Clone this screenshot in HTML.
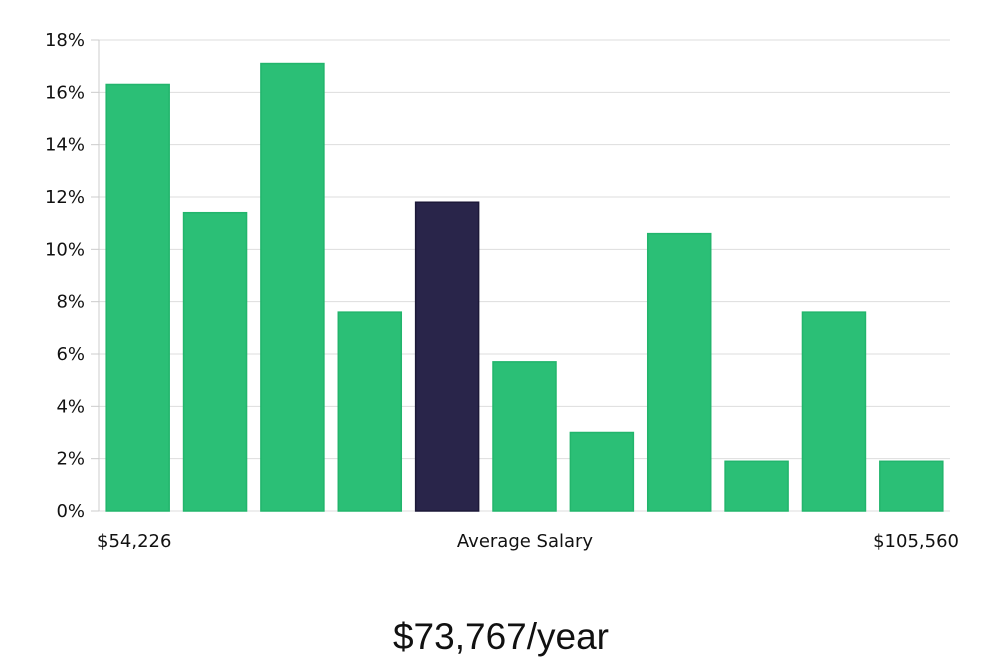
<!DOCTYPE html>
<html><head><meta charset="utf-8"><style>
body{margin:0;background:#fff;width:1000px;height:660px;overflow:hidden}
svg text{font-family:"DejaVu Sans","Liberation Sans",sans-serif;fill:#111}
</style></head><body>
<svg id="c" width="1000" height="660">
<g id="grid"></g>
<g id="bars"></g>
<g id="ticks"></g>
<text x="97" y="547" font-size="18">$54,226</text>
<text x="525" y="547" font-size="18" text-anchor="middle">Average Salary</text>
<text x="959" y="547" font-size="18" text-anchor="end">$105,560</text>
<text x="501" y="649" font-size="37" text-anchor="middle" style="font-family:'Liberation Sans',sans-serif;font-weight:300">$73,767/year</text>
</svg>
<script>
const categories=["b1","b2","b3","b4","b5","b6","b7","b8","b9","b10","b11"];
const values=[16.3,11.4,17.1,7.6,11.8,5.7,3.0,10.6,1.9,7.6,1.9];
const highlightIndex=4;
const yTicks=[0,2,4,6,8,10,12,14,16,18];
const X0=99,X1=950,Y0=511,Y1=40,YMAX=18;
const ns="http://www.w3.org/2000/svg";
const band=(X1-X0)/categories.length;
const xs=i=>X0+i*band;
const ys=v=>Y0-(v/YMAX)*(Y0-Y1);
function mk(t,a){const e=document.createElementNS(ns,t);for(const k in a)e.setAttribute(k,a[k]);return e;}
const grid=document.getElementById('grid'),ticks=document.getElementById('ticks'),bars=document.getElementById('bars');
yTicks.forEach(t=>{
  const y=ys(t);
  const l=mk('line',{x1:X0,x2:X1,y1:y,y2:y,stroke:'#dddddd','stroke-width':1});
  
  
  grid.appendChild(l);
  const tk=mk('line',{x1:X0-8,x2:X0,y1:y,y2:y,stroke:'#ccc'});
  
  
  ticks.appendChild(tk);
  const tx=mk('text',{x:85,y:y+6,'font-size':18,'text-anchor':'end'});
  tx.textContent=t+'%';
  
  
  ticks.appendChild(tx);
});
const ax=mk('line',{x1:X0,x2:X0,y1:Y1,y2:Y0,stroke:'#ccc'});


ticks.appendChild(ax);
const bw=63,pad=(band-bw)/2;
values.forEach((v,i)=>{
  const y=ys(v);
  const hi=i===highlightIndex;
  const r=mk('rect',{x:xs(i)+pad,y:y,width:bw,height:Y0-y,fill:hi?'#29254a':'#2bbf76',stroke:hi?'#1c1838':'#22b56c','stroke-width':1.5});
  
  
  bars.appendChild(r);
});
</script>
</body></html>
